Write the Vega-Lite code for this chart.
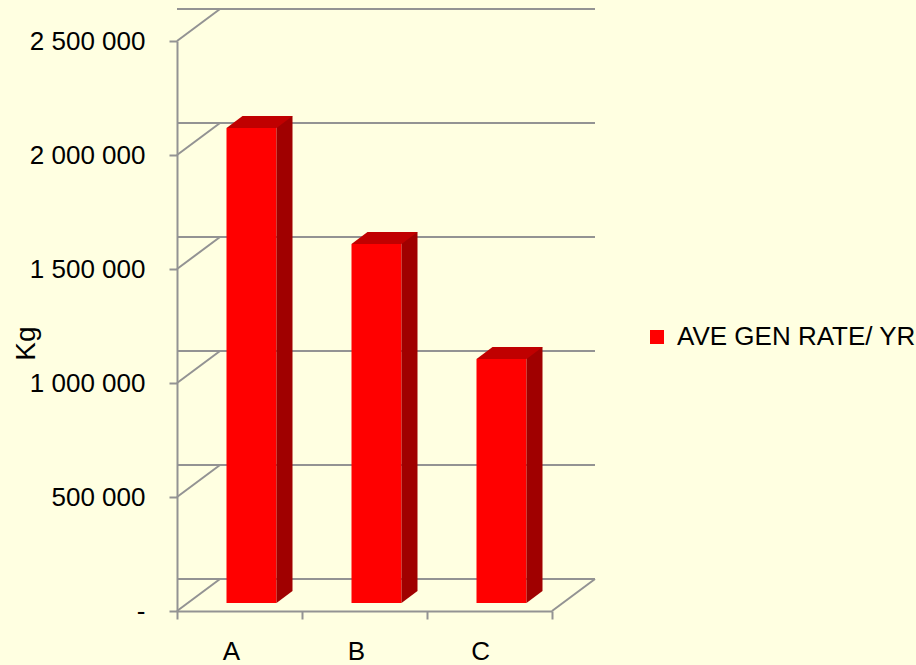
{
  "$schema": "https://vega.github.io/schema/vega-lite/v6.json",
  "autosize": {"type": "none"},
  "width": 375,
  "height": 570,
  "padding": {"left": 177, "top": 41, "right": 364, "bottom": 54},
  "background": "#FFFFE1",
  "config": {
    "view": {"stroke": null},
    "font": "Liberation Sans"
  },
  "datasets": {
    "bars": [
      {"cat": "A", "value": 2083000, "series": "AVE GEN RATE/ YR"},
      {"cat": "B", "value": 1575000, "series": "AVE GEN RATE/ YR"},
      {"cat": "C", "value": 1070000, "series": "AVE GEN RATE/ YR"}
    ],
    "ticks": [
      {"v": 0}, {"v": 500000}, {"v": 1000000}, {"v": 1500000}, {"v": 2000000}, {"v": 2500000}
    ]
  },
  "layer": [
    {
      "data": {"name": "ticks"},
      "mark": {"type": "rule", "color": "#939393", "strokeWidth": 2, "xOffset": 43, "x2Offset": 43, "yOffset": -32},
      "encoding": {
        "y": {
          "field": "v", "type": "quantitative",
          "scale": {"domain": [0, 2500000], "nice": false, "zero": true},
          "axis": {
            "values": [0, 500000, 1000000, 1500000, 2000000, 2500000],
            "labelExpr": "datum.value == 0 ? '-  ' : replace(format(datum.value, ','), regexp(',', 'g'), ' ')",
            "labelFont": "Liberation Sans", "labelFontSize": 26, "labelColor": "#000000",
            "tickSize": 8, "labelPadding": 24, "tickColor": "#939393", "tickWidth": 2,
            "domainColor": "#939393", "domainWidth": 2, "grid": false,
            "title": "Kg", "titleFont": "Liberation Sans", "titleFontSize": 28, "titleFontWeight": "normal",
            "titleColor": "#000000", "titleAngle": -90, "titleX": -151, "titleY": 302,
            "titleAlign": "center", "titleBaseline": "middle"
          }
        }
      }
    },
    {
      "data": {"name": "ticks"},
      "mark": {"type": "rule", "color": "#939393", "strokeWidth": 2, "x2Offset": 43, "y2Offset": -32},
      "encoding": {
        "x": {"datum": "A", "type": "nominal", "bandPosition": 0},
        "x2": {"datum": "A", "bandPosition": 0},
        "y": {"field": "v", "type": "quantitative"},
        "y2": {"field": "v"}
      }
    },
    {
      "data": {"values": [{"v": 0}]},
      "mark": {"type": "rule", "color": "#939393", "strokeWidth": 2, "x2Offset": 43, "y2Offset": -32},
      "encoding": {
        "x": {"datum": "C", "type": "nominal", "bandPosition": 1},
        "x2": {"datum": "C", "bandPosition": 1},
        "y": {"field": "v", "type": "quantitative"},
        "y2": {"field": "v"}
      }
    },
    {
      "data": {"name": "bars"},
      "mark": {"type": "bar", "width": 50, "xOffset": 12, "yOffset": -8, "y2Offset": -8},
      "encoding": {
        "x": {
          "field": "cat", "type": "nominal",
          "scale": {"domain": ["A", "B", "C"], "paddingInner": 0, "paddingOuter": 0},
          "axis": {
            "labelAngle": 0, "labelFont": "Liberation Sans", "labelFontSize": 26, "labelColor": "#000000",
            "tickBand": "extent", "tickSize": 8, "labelPadding": 32, "tickColor": "#939393", "tickWidth": 2,
            "domainColor": "#939393", "domainWidth": 2, "title": null, "grid": false
          }
        },
        "y": {"field": "value", "type": "quantitative"},
        "color": {
          "field": "series", "type": "nominal",
          "scale": {"range": ["#FF0000"]},
          "legend": {
            "orient": "none", "legendX": 467, "legendY": 283, "title": null,
            "symbolType": "square", "symbolSize": 196, "symbolStrokeWidth": 0, "symbolOpacity": 1,
            "labelFont": "Liberation Sans", "labelFontSize": 26, "labelColor": "#000000",
            "labelOffset": 7, "labelLimit": 0, "padding": 0
          }
        }
      }
    },
    {
      "data": {"name": "bars"},
      "mark": {"type": "bar", "width": 16, "xOffset": 45, "yOffset": -20, "y2Offset": -20, "color": "#A00000"},
      "encoding": {
        "x": {"field": "cat", "type": "nominal"},
        "y": {"field": "value", "type": "quantitative"}
      }
    },
    {
      "data": {"name": "bars"},
      "mark": {"type": "point", "shape": "M25,0 L25,-12 L41,-12 Z", "size": 4, "filled": true, "opacity": 1, "fill": "#A00000", "strokeWidth": 0, "xOffset": 12, "yOffset": -8},
      "encoding": {
        "x": {"field": "cat", "type": "nominal"},
        "y": {"datum": 0, "type": "quantitative"}
      }
    },
    {
      "data": {"name": "bars"},
      "mark": {"type": "point", "shape": "M-25,0 L25,0 L41,-12 L-9,-12 Z", "size": 4, "filled": true, "opacity": 1, "fill": "#C00000", "strokeWidth": 0, "xOffset": 12, "yOffset": -8},
      "encoding": {
        "x": {"field": "cat", "type": "nominal"},
        "y": {"field": "value", "type": "quantitative"}
      }
    }
  ]
}
